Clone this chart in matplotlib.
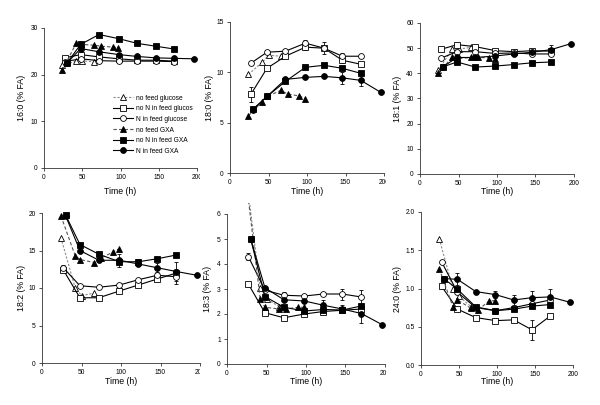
import matplotlib
matplotlib.use("Agg")
import matplotlib.pyplot as plt
from matplotlib.transforms import Bbox, TransformedBbox

plt.rcParams['font.family'] = ['Liberation Sans', 'DejaVu Sans']

# ---------------- data ----------------
series_names = ["no feed glucose", "no N in feed glucos", "N in feed glucose",
                "no feed GXA", "no N in feed GXA", "N in feed GXA"]
ylabels = ["16:0 (% FA)", "18:0 (% FA)", "18:1 (% FA)",
           "18:2 (% FA)", "18:3 (% FA)", "24:0 (% FA)"]
xlabel = "Time (h)"
xticks = [0, 50, 100, 150, 200]

# sampling times (h) per series
t_nfg = [24, 42, 50, 66]                       # no feed glucose
t_nng = [27, 48, 72, 98, 122, 146, 170]        # no N in feed glucose
t_ng = [27, 48, 72, 98, 122, 146, 170]         # N in feed glucose
t_nfx = [24, 42, 48, 66, 75, 90, 97]           # no feed GXA
t_nnx = [30, 48, 72, 98, 122, 146, 170]        # no N in feed GXA
t_nx = [30, 48, 72, 98, 122, 146, 170, 196]    # N in feed GXA

# 16:0
v160_nfg = [22.0, 22.9, 23.0, 22.7]
v160_nng = [23.6, 24.3, 23.8, 23.4, 23.1, 23.1, 22.9]
v160_ng = [22.8, 23.4, 23.0, 22.9, 22.9, 22.9, 22.8]
v160_nfx = [21.0, 26.7, 26.5, 26.3, 26.1, 25.9, 25.8]
v160_nnx = [22.5, 26.5, 28.6, 27.7, 26.7, 26.1, 25.5]
v160_nx = [22.5, 25.6, 24.9, 24.3, 23.9, 23.6, 23.5, 23.4]

# 18:0
v180_nfg = [9.8, 11.0, 11.7, 11.6]
v180_nng = [7.8, 10.4, 11.6, 12.5, 12.4, 11.2, 10.8]
v180_ng = [10.9, 12.0, 12.1, 12.9, 12.4, 11.6, 11.6]
v180_nfx = [5.7, 7.1, 7.6, 8.2, 7.85, 7.65, 7.4]
v180_nnx = [6.35, 7.6, 9.1, 10.5, 10.7, 10.4, 9.9]
v180_nx = [6.3, 7.6, 9.3, 9.5, 9.6, 9.45, 9.2, 8.0]
e180_nng = [0.7, 0, 0, 0.3, 0.6, 0.3, 0]
e180_ng = [0, 0, 0, 0.3, 0, 0.3, 0]
e180_nx = [0, 0, 0, 0, 0, 0.6, 0.6, 0]

# 18:1
v181_nfg = [41.5, 49.5, 49.6, 50.3]
v181_nng = [49.5, 51.4, 50.6, 49.0, 48.6, 49.0, 48.8]
v181_ng = [46.0, 48.6, 48.6, 47.9, 48.1, 47.7, 47.7]
v181_nfx = [40.3, 46.4, 45.8, 46.3, 46.3, 46.2, 45.7]
v181_nnx = [42.6, 44.5, 42.5, 42.9, 43.5, 44.2, 44.5]
v181_nx = [42.6, 46.3, 46.3, 46.9, 47.7, 48.4, 49.4, 51.8]
e181_nx = [0, 0, 0, 0, 0, 0, 1.8, 0]

# 18:2
v182_nfg = [16.7, 10.0, 9.0, 9.3]
v182_nng = [12.4, 8.7, 8.7, 9.6, 10.4, 11.2, 12.0]
v182_ng = [12.7, 10.3, 10.1, 10.4, 11.1, 11.7, 11.5]
v182_nfx = [19.6, 14.3, 13.8, 13.4, 14.0, 14.8, 15.2]
v182_nnx = [19.7, 15.8, 14.5, 13.5, 13.5, 13.9, 14.4]
v182_nx = [19.6, 15.0, 13.7, 13.7, 13.2, 12.7, 12.2, 11.7]
e182_ng = [0.4, 0, 0, 0, 0, 0, 1.0]
e182_nnx = [0, 0, 0, 0, 0.4, 0, 0]
e182_nx = [0, 0, 0, 0.9, 0.3, 0.6, 1.3, 0]

# 18:3
v183_nfg = [7.6, 3.05, 2.6, 2.3]
v183_nng = [3.2, 2.05, 1.85, 2.0, 2.1, 2.15, 2.2]
v183_ng = [4.3, 2.95, 2.75, 2.72, 2.8, 2.8, 2.68]
v183_nfx = [7.4, 2.6, 2.27, 2.2, 2.2, 2.27, 2.27]
v183_nnx = [5.0, 2.7, 2.27, 2.12, 2.18, 2.16, 2.32]
v183_nx = [5.0, 3.05, 2.57, 2.52, 2.35, 2.2, 2.02, 1.58]
e183_ng = [0.15, 0, 0.15, 0, 0, 0.22, 0.28]
e183_nx = [0, 0, 0, 0, 0.2, 0.15, 0.37, 0]

# 24:0
v240_nfg = [1.65, 1.0, 0.9, 0.76]
v240_nng = [1.03, 0.73, 0.62, 0.58, 0.59, 0.46, 0.64]
v240_ng = [1.35, 0.95, 0.75, 0.71, 0.75, 0.80, 0.85]
v240_nfx = [1.26, 0.76, 0.85, 0.74, 0.72, 0.84, 0.84]
v240_nnx = [1.13, 0.99, 0.76, 0.71, 0.73, 0.77, 0.79]
v240_nx = [1.13, 1.12, 0.96, 0.92, 0.85, 0.88, 0.89, 0.82]
e240_nng = [0, 0, 0, 0, 0, 0.13, 0]
e240_nx = [0, 0.08, 0, 0.05, 0.06, 0.09, 0.10, 0]

times = [t_nfg, t_nng, t_ng, t_nfx, t_nnx, t_nx]
panels = [
    dict(vals=[v160_nfg, v160_nng, v160_ng, v160_nfx, v160_nnx, v160_nx],
         errs=[None, None, None, None, None, None], ymax=30, yticks=[0, 10, 20, 30]),
    dict(vals=[v180_nfg, v180_nng, v180_ng, v180_nfx, v180_nnx, v180_nx],
         errs=[None, e180_nng, e180_ng, None, None, e180_nx], ymax=15, yticks=[0, 5, 10, 15]),
    dict(vals=[v181_nfg, v181_nng, v181_ng, v181_nfx, v181_nnx, v181_nx],
         errs=[None, None, None, None, None, e181_nx], ymax=60, yticks=[0, 10, 20, 30, 40, 50, 60]),
    dict(vals=[v182_nfg, v182_nng, v182_ng, v182_nfx, v182_nnx, v182_nx],
         errs=[None, None, e182_ng, None, e182_nnx, e182_nx], ymax=20, yticks=[0, 5, 10, 15, 20]),
    dict(vals=[v183_nfg, v183_nng, v183_ng, v183_nfx, v183_nnx, v183_nx],
         errs=[None, None, e183_ng, None, None, e183_nx], ymax=6, yticks=[0, 1, 2, 3, 4, 5, 6]),
    dict(vals=[v240_nfg, v240_nng, v240_ng, v240_nfx, v240_nnx, v240_nx],
         errs=[None, e240_nng, None, None, None, e240_nx], ymax=2.0,
         yticks=[0.0, 0.5, 1.0, 1.5, 2.0]),
]

# ---------------- layout / style ----------------
W, H = 600, 405
# (left, right, top, bottom) in pixels
boxes = [(44, 197, 28, 168), (230, 384, 22, 173), (420, 574, 23, 174),
         (42, 200, 213, 363), (227, 385, 214, 364), (421, 573, 212, 365)]
ylabel_x = [22, 210, 397, 22, 208, 397]
xlabel_y = [191, 191, 192, 382, 382, 382]
ticklabel_clip_x = [200, 386, None, 200, 386, None]

styles = [
    dict(marker='^', mfc='white', color='#8a8a8a', ls=(0, (2, 1.5))),
    dict(marker='s', mfc='white', color='black', ls='-'),
    dict(marker='o', mfc='white', color='black', ls='-'),
    dict(marker='^', mfc='black', color='#555555', ls=(0, (3, 2))),
    dict(marker='s', mfc='black', color='black', ls='-'),
    dict(marker='o', mfc='black', color='black', ls='-'),
]

fig = plt.figure(figsize=(W / 100, H / 100), dpi=100)
axes = []
legend_handles = []
for i, (p, (l, r, t, b)) in enumerate(zip(panels, boxes)):
    ax = fig.add_axes([l / W, 1 - b / H, (r - l) / W, (b - t) / H])
    axes.append(ax)
    for k in range(6):
        st = styles[k]
        tt = times[k]
        vv = p['vals'][k]
        ee = p['errs'][k]
        if ee is not None:
            ax.errorbar(tt, vv, yerr=ee, fmt='none', ecolor='black', elinewidth=0.6,
                        capsize=1.5, capthick=0.6, zorder=2, clip_on=False)
        ln, = ax.plot(tt, vv, linestyle=st['ls'], color=st['color'], lw=0.8,
                      marker=st['marker'], markersize=4.2, mfc=st['mfc'], mec='black',
                      mew=0.6, zorder=3, clip_on=False, label=series_names[k])
        if i == 4 and k in (0, 3):
            # curve leaves the axis top; clipped at the panel border
            ln.set_clip_on(True)
            ln.set_clip_box(TransformedBbox(Bbox.from_extents(0, 0, 1, 1 - 203 / H),
                                            fig.transFigure))
        if i == 0:
            legend_handles.append(ln)
    ax.set_xlim(0, 200)
    ax.set_ylim(0, p['ymax'])
    ax.set_xticks(xticks)
    ax.set_yticks(p['yticks'])
    if i == 5:
        ax.set_yticklabels([f"{v:.1f}" for v in p['yticks']])
    for s in ('top', 'right'):
        ax.spines[s].set_visible(False)
    for s in ('left', 'bottom'):
        ax.spines[s].set_linewidth(0.6)
        ax.spines[s].set_color('#333333')
    ax.tick_params(direction='out', length=2.5, width=0.6, labelsize=4.8, pad=2,
                   color='#333333')
    ax.set_ylabel(ylabels[i], fontsize=6.3)
    ax.yaxis.set_label_coords(ylabel_x[i] / W, 1 - (t + b) / 2 / H, transform=fig.transFigure)
    ax.yaxis.label.set_va('center')
    ax.set_xlabel(xlabel, fontsize=6.3)
    ax.xaxis.set_label_coords((l + r) / 2 / W, 1 - xlabel_y[i] / H, transform=fig.transFigure)
    ax.xaxis.label.set_va('center')

axes[0].legend(handles=legend_handles, loc='upper left',
               bbox_to_anchor=(113 / W, 1 - 94.5 / H), bbox_transform=fig.transFigure,
               frameon=False, fontsize=4.8, borderpad=0, borderaxespad=0,
               handlelength=3.0, handletextpad=0.5, labelspacing=0.55, numpoints=1)

fig.canvas.draw()
for ax, cx in zip(axes, ticklabel_clip_x):
    if cx is None:
        continue
    cb = TransformedBbox(Bbox.from_extents(0, 0, cx / W, 1), fig.transFigure)
    for lbl in ax.get_xticklabels():
        lbl.set_clip_on(True)
        lbl.set_clip_box(cb)

fig.savefig("out.png", dpi=100)
